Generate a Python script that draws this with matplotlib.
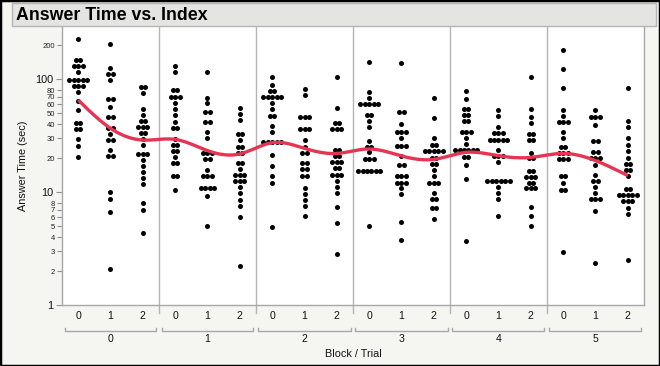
import numpy as np
import matplotlib
matplotlib.use("Agg")
import matplotlib.pyplot as plt
from matplotlib.patches import Rectangle
from matplotlib.ticker import FixedLocator, FixedFormatter, NullFormatter
import matplotlib.transforms as mtransforms

# ---------------- data ----------------
blocks = ["0", "1", "2", "3", "4", "5"]
trials = ["0", "1", "2"]

def rep(*pairs):
    out = []
    for p in pairs:
        if isinstance(p, tuple):
            out += [p[0]] * p[1]
        else:
            out.append(p)
    return out

b0_t0 = rep(227, (148, 2), (132, 3), 115, (98.4, 5), (87.1, 3), 76.5, 64.5, 53.7,
            (40.7, 2), (36.0, 2), 29.5, 25.8, 20.5)
b0_t1 = rep(205, 125, (111, 2), 98.4, (66.3, 2), 56.3, (46.6, 2), (36.7, 2), 32.5,
            (28.7, 2), 23.6, (20.9, 2), 9.95, 8.74, 6.71, 2.10)
b0_t2 = rep((85.9, 2), 76.0, 54.5, 48.5, (42.9, 2), (38.0, 3), (33.6, 2), 29.5, 26.1,
            (21.9, 3), 19.2, 17.0, 15.2, 13.4, 11.9, 7.95, 6.94, 4.37)
b1_t0 = rep(132, 115, (79.7, 2), (69.1, 3), 61.1, 54.1, 47.9, 42.1, (37.2, 2), 29.5,
            (26.1, 2), (23.0, 2), 20.3, (18.0, 2), (13.8, 2), 10.5)
b1_t1 = rep(117, 68.6, 61.1, (51.6, 2), (41.5, 2), 33.8, 30.1, (22.0, 3), (19.5, 2),
            15.7, (13.9, 3), (10.9, 4), 9.17, 5.04)
b1_t2 = rep(55.9, 49.5, 43.5, (32.5, 2), 28.7, (25.3, 2), (22.0, 2), (18.2, 2), 16.1,
            (14.3, 3), (12.6, 3), 11.2, 9.89, 8.51, 7.53, 6.02, 2.23)
b2_t0 = rep(105, 88.9, (78.6, 2), (69.6, 5), 61.5, 54.1, (47.2, 2), 38.5, 33.8,
            (28.0, 5), 21.3, 16.9, 13.8, 12.0, 4.94)
b2_t1 = rep(81.3, 71.9, (46.6, 3), (36.2, 3), 28.9, 25.3, (22.0, 2), (18.0, 2),
            (15.9, 2), (14.0, 2), 10.8, 9.62, 8.45, 7.53, 6.14)
b2_t2 = rep(104, 55.2, (41.2, 2), (36.2, 3), (23.4, 2), (20.9, 2), (18.3, 3), (16.2, 2),
            (14.3, 3), 12.6, 11.2, 9.75, 7.43, 5.36, 2.85)
b3_t0 = rep(141, 76.5, 68.2, (60.3, 5), (48.2, 2), 42.6, 37.5, 28.5, (25.3, 2), 22.5,
            (19.6, 3), (15.5, 6), 5.04)
b3_t1 = rep(139, (51.2, 2), 39.8, (34.3, 3), 30.1, (25.4, 3), 20.9, (17.4, 2),
            (14.0, 3), (12.1, 3), 10.9, 9.62, 5.40, 3.77)
b3_t2 = rep(68.2, 45.3, 30.1, (26.0, 2), (23.0, 5), (19.9, 2), (17.6, 2), 15.6, 13.8,
            (12.1, 3), 9.75, (8.63, 2), (7.18, 2), 5.74)
b4_t0 = rep(78.6, 66.8, (54.8, 2), (48.2, 2), (42.9, 2), (33.8, 3), 30.1, 26.5,
            (23.4, 6), (20.6, 2), 17.3, 13.1, 3.71)
b4_t1 = rep(53.4, 47.2, 37.5, (33.2, 3), (28.9, 5), 23.6, (20.9, 3), 18.3, (12.5, 6),
            11.2, 9.89, 8.69, 6.14)
b4_t2 = rep(105, 54.5, 46.6, 40.9, (32.7, 2), (29.1, 2), 22.0, (19.9, 2), (15.5, 2),
            (13.7, 3), (12.1, 2), (10.8, 3), 7.43, 6.18, 5.01)
b5_t0 = rep(181, 123, 84.1, 53.4, 47.2, (41.8, 3), 34.1, 30.1, (25.1, 2), (22.2, 3),
            (19.6, 3), (13.9, 2), 12.0, (10.5, 2), 2.95)
b5_t1 = rep(53.0, (46.6, 3), 39.3, (28.5, 2), (22.7, 2), (20.0, 3), 17.4, 14.3,
            (12.5, 2), 11.1, 9.82, (8.69, 3), 6.76, 2.37)
b5_t2 = rep(84.1, 42.9, 37.7, 30.1, 26.0, 23.0, 20.0, (17.6, 2), (15.7, 2), 13.9,
            (10.7, 2), (9.49, 5), (8.40, 3), 7.18, 6.36, 2.50)

columns = [b0_t0, b0_t1, b0_t2, b1_t0, b1_t1, b1_t2, b2_t0, b2_t1, b2_t2,
           b3_t0, b3_t1, b3_t2, b4_t0, b4_t1, b4_t2, b5_t0, b5_t1, b5_t2]

# smoother values at each Block/Trial position
smooth_vals = [65.4, 36.7, 28.9, 29.3, 23.3, 21.8, 27.4, 24.4, 22.0,
               24.1, 20.9, 19.5, 22.5, 21.0, 20.3, 22.0, 19.0, 14.0]

# ---------------- figure ----------------
W, H = 660, 366
fig = plt.figure(figsize=(W / 100, H / 100), dpi=100, facecolor="#F5F5F1")
plt.rcParams["font.family"] = ["Liberation Sans", "DejaVu Sans"]

ax_l, ax_r, ax_t, ax_b = 62, 644, 27, 305
ax = fig.add_axes([ax_l / W, 1 - ax_b / H, (ax_r - ax_l) / W, (ax_b - ax_t) / H])
ax.set_facecolor("white")
ncat = len(columns)
ax.set_xlim(-0.5, ncat - 0.5)
ax.set_yscale("log")
ax.set_ylim(1, 290)

for s in ["left", "bottom", "right"]:
    ax.spines[s].set_color("#A8A8A8")
    ax.spines[s].set_linewidth(1.0)
ax.spines["top"].set_visible(False)

# y ticks
major = [1, 10, 100]
minor = [2, 3, 4, 5, 6, 7, 8, 20, 30, 40, 50, 60, 70, 80, 200]
ax.yaxis.set_major_locator(FixedLocator(major))
ax.yaxis.set_major_formatter(FixedFormatter([str(v) for v in major]))
ax.yaxis.set_minor_locator(FixedLocator(minor))
ax.yaxis.set_minor_formatter(FixedFormatter([str(v) for v in minor]))
ax.tick_params(axis="y", which="major", length=4.5, width=0.8, color="#909090",
               labelsize=7.8, pad=1.5, labelcolor="#111111")
ax.tick_params(axis="y", which="minor", length=3.5, width=0.8, color="#909090",
               labelsize=5.5, pad=1.5, labelcolor="#222222")

# x ticks
ax.set_xticks(range(ncat))
ax.set_xticklabels(trials * len(blocks))
ax.tick_params(axis="x", which="both", length=0, labelsize=7.6, pad=4,
               labelcolor="#111111")
ax.xaxis.set_minor_formatter(NullFormatter())

# separators
ppx = (ax_b - ax_t)  # axes height in px
trans = mtransforms.blended_transform_factory(ax.transData, ax.transAxes)
for g in range(1, len(blocks)):
    xs = 3 * g - 0.5
    ax.plot([xs, xs], [1, -8 / ppx], transform=trans, color="#B4B4B4", lw=1,
            clip_on=False, zorder=1)

# block brackets and labels
unit_px = (ax_r - ax_l) / ncat
gap = 2.5 / unit_px
yb = -(331 - ax_b) / ppx
yt = -(327.5 - ax_b) / ppx
for g, name in enumerate(blocks):
    x0 = 3 * g - 0.5 + gap
    x1 = 3 * g + 2.5 - gap
    ax.plot([x0, x0, x1, x1], [yt, yb, yb, yt], transform=trans, color="#A8A8A8",
            lw=1, clip_on=False)
    ax.text(3 * g + 1, -(339 - ax_b) / ppx, name, transform=trans, ha="center",
            va="center", fontsize=7.6, color="#111111")

fig.text((ax_l + ax_r) / 2 / W, 1 - 354 / H, "Block / Trial", ha="center",
         va="center", fontsize=7.8, color="#111111")
fig.text(23 / W, 1 - 166 / H, "Answer Time (sec)", rotation=90, ha="center",
         va="center", fontsize=7.8, color="#111111")

# dots, stacked horizontally when equal
sp = 4.4 / unit_px
xs_all, ys_all = [], []
for k, col in enumerate(columns):
    vals, counts = np.unique(np.array(col), return_counts=True)
    for v, n in zip(vals, counts):
        for j in range(n):
            xs_all.append(k + (j - (n - 1) / 2) * sp)
            ys_all.append(v)
ax.scatter(xs_all, ys_all, s=13, c="black", linewidths=0, zorder=3)

# smoother: natural cubic spline in log space through the read values
xk = np.arange(ncat, dtype=float)
yk = np.log10(np.array(smooth_vals))
n = ncat
h = np.diff(xk)
A = np.zeros((n, n))
rhs = np.zeros(n)
A[0, 0] = A[-1, -1] = 1
for i in range(1, n - 1):
    A[i, i - 1] = h[i - 1]
    A[i, i] = 2 * (h[i - 1] + h[i])
    A[i, i + 1] = h[i]
    rhs[i] = 3 * ((yk[i + 1] - yk[i]) / h[i] - (yk[i] - yk[i - 1]) / h[i - 1])
c = np.linalg.solve(A, rhs)
b = (yk[1:] - yk[:-1]) / h - h * (2 * c[:-1] + c[1:]) / 3
d = (c[1:] - c[:-1]) / (3 * h)
xf = np.linspace(0, n - 1, 600)
idx = np.clip(np.searchsorted(xk, xf) - 1, 0, n - 2)
dx = xf - xk[idx]
yf = yk[idx] + b[idx] * dx + c[idx] * dx ** 2 + d[idx] * dx ** 3
ax.plot(xf, 10 ** yf, color="#E63552", lw=2.4, solid_capstyle="butt", zorder=4)

# title bar
fig.patches.append(Rectangle((12 / W, 1 - 26 / H), (656 - 12) / W, 23 / H,
                             transform=fig.transFigure, facecolor="#E4E4E2",
                             edgecolor="#B5B5B5", lw=1, zorder=5))
fig.text(16 / W, 1 - 15 / H, "Answer Time vs. Index", fontsize=12.8,
         fontweight="bold", ha="left", va="center", color="black", zorder=6)

# outer border
fig.patches.append(Rectangle((0, 0), 1, 1, transform=fig.transFigure, fill=False,
                             edgecolor="black", lw=2.5, zorder=7))

fig.savefig("out.png", dpi=100, facecolor=fig.get_facecolor())
